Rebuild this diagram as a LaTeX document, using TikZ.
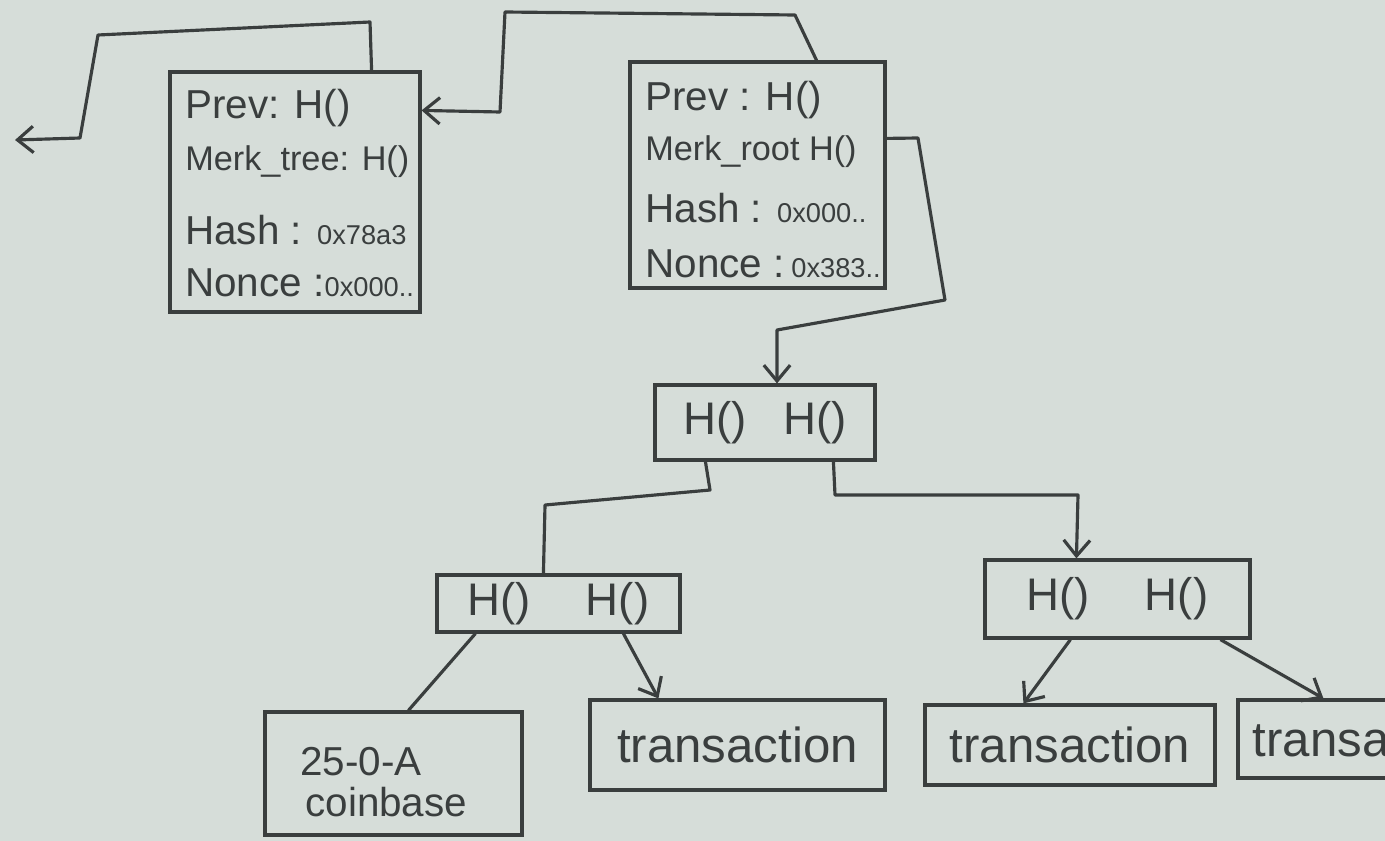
\documentclass[tikz,border=0pt]{standalone}
\usepackage{fontspec}
\setmainfont{Liberation Sans}
\usetikzlibrary{arrows.meta,fit,calc}
\definecolor{paper}{RGB}{214,221,217}
\definecolor{ink}{RGB}{58,62,62}
\newcommand\hexsz{\fontsize{15.5}{18}\selectfont}
\begin{document}
\begin{tikzpicture}[x=0.02cm,y=-0.02cm,
  box/.style={draw=ink,line width=1.8pt,inner sep=0pt},
  txt/.style={text=ink,font=\fontsize{23}{26}\selectfont,inner sep=0pt,anchor=west},
  mk/.style={font=\fontsize{19.5}{23}\selectfont},
  big/.style={text=ink,font=\fontsize{26}{30}\selectfont,inner sep=0pt},
  link/.style={draw=ink,line width=1.8pt,line join=round},
  arr/.style={link,-{Straight Barb[length=9pt,width=15pt,line width=1.8pt]}}]
\fill[paper] (0,0) rectangle (1385,841);
\useasboundingbox (0,0) rectangle (1385,841);

% block headers
\node[box,fit={(170,72) (420,312)}] (b1) {};
\node[txt] (b1prev) at (185,108) {Prev: H()};
\node[txt,mk] (b1merk) at (185,162) {Merk\_tree: H()};
\node[txt] (b1hash) at (185,230) {Hash : {\hexsz 0x78a3}};
\node[txt] (b1nonce) at (185,283) {Nonce :{\hexsz 0x000..}};

\node[box,fit={(630,62) (885,288)}] (b2) {};
\node[txt] (b2prev) at (645,100) {Prev : H()};
\node[txt,mk] (b2merk) at (645,152) {Merk\_root H()};
\node[txt] (b2hash) at (645,208) {Hash : {\hexsz 0x000..}};
\node[txt] (b2nonce) at (645,264) {Nonce :\,{\hexsz 0x383..}};

% merkle tree
\node[box,fit={(655,385) (875,460)}] (root) {};
\node[big] (roott) at (root.center) {H()\hspace{0.8em}H()};
\node[box,fit={(437,575) (680,632)}] (lc) {};
\node[big] (lct) at (lc.center) {H()\hspace{1.2em}H()};
\node[box,fit={(985,560) (1250,638)}] (rc) {};
\node[big] (rct) at (rc.center) {H()\hspace{1.2em}H()};

\node[box,fit={(265,712) (522,835)}] (cb) {};
\node[big,anchor=west,font=\fontsize{23}{27}\selectfont] (cbt1) at (300,762) {25-0-A};
\node[big,anchor=west,font=\fontsize{23}{27}\selectfont] (cbt2) at (305,802) {coinbase};
\node[box,fit={(590,700) (885,790)}] (tx1) {};
\node[big,font=\fontsize{28}{32}\selectfont] (tx1t) at (tx1.center) {transaction};
\node[box,fit={(925,705) (1215,785)}] (tx2) {};
\node[big,font=\fontsize{28}{32}\selectfont] (tx2t) at (tx2.center) {transaction};
\node[box,fit={(1238,700) (1500,778)}] (tx3) {};
\node[big,anchor=west,font=\fontsize{28}{32}\selectfont] (tx3t) at ($(tx3.west)+(16,0)$) {transaction};

% chain links between blocks
\coordinate (older) at (15,140);
\draw[arr] (b1.north east) ++(-50,0) -- (370,22) -- (98,35) -- (80,138) -- (older);
\draw[arr] (b2.north east) ++(-70,0) -- (795,15) -- (505,12) -- (500,112) -- ($(b1.north east)+(0,40)$);
\draw[arr] ($(b2.north east)+(0,78)$) -- (918,138) -- (945,300) -- (777,330) -- ($(root.north)+(12,0)$);

% tree edges
\draw[link] ($(root.south west)+(52,0)$) -- (710,490) -- (545,505) -- ($(lc.north west)+(108,0)$);
\draw[arr] ($(root.south west)+(180,0)$) -- (835,495) -- (1078,495) -- ($(rc.north west)+(93,0)$);
\draw[link] ($(lc.south west)+(40,0)$) -- ($(cb.north west)+(145,0)$);
\draw[arr] ($(lc.south west)+(188,0)$) -- ($(tx1.north west)+(70,0)$);
\draw[arr] ($(rc.south west)+(87,0)$) -- ($(tx2.north west)+(100,0)$);
\draw[arr] ($(rc.south west)+(237,0)$) -- ($(tx3.north west)+(87,0)$);
\end{tikzpicture}
\end{document}
